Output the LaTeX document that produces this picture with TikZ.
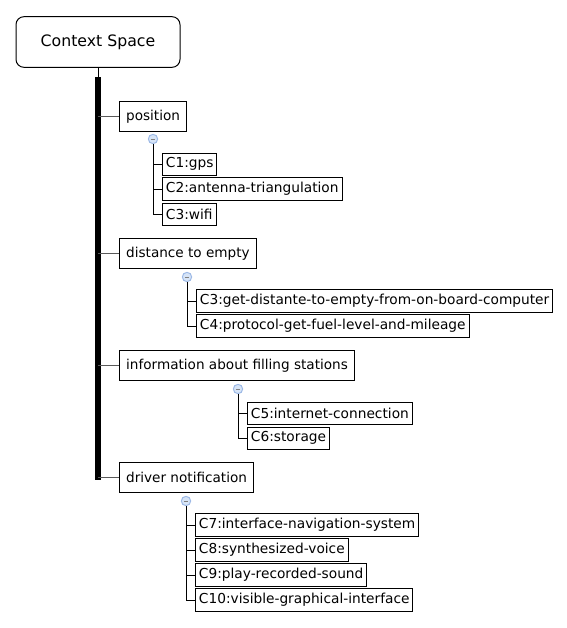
\documentclass[tikz,border=0pt]{standalone}
\usepackage{fontspec}
\setmainfont{DejaVu Sans}
\definecolor{foldfill}{HTML}{D6E4F7}
\definecolor{folddraw}{HTML}{9DB9E6}
\tikzset{
  title/.style={draw, rounded corners=6pt, minimum width=123pt, minimum height=38pt, font=\fontsize{11.8}{14}\selectfont},
  topic/.style={draw, anchor=west, minimum height=22.5pt, inner xsep=5pt, font=\fontsize{10.2}{12}\selectfont},
  leaf/.style={draw, anchor=west, minimum height=16.5pt, inner xsep=2.6pt, font=\fontsize{10.3}{12}\selectfont},
  fold/.style={circle, draw=folddraw, fill=foldfill, inner sep=0pt, minimum size=7pt},
  twig/.style={gray!70!black, line width=0.75pt},
}
\begin{document}
\begin{tikzpicture}[x=0.75pt, y=-0.75pt, line width=0.75pt]
  \useasboundingbox (0,0) rectangle (567,628);

  % Root
  \node[title] (root) at (98,42) {Context Space};
  \coordinate (barTop) at (98,77);
  \coordinate (barEnd) at (98,478);

  % Topics
  \node[topic] (pos) at (119,116.5) {position};
  \node[topic] (dte) at (119,253.5) {distance to empty};
  \node[topic] (info) at (119,365.5) {information about filling stations};
  \node[topic] (drv) at (119,477.5) {driver notification};

  % Fold marks
  \node[fold] (f1) at (153,139) {};
  \node[fold] (f2) at (187,277) {};
  \node[fold] (f3) at (238,389) {};
  \node[fold] (f4) at (186,501) {};
  \foreach \f in {f1,f2,f3,f4}
    \draw[gray, line width=0.5pt] ([xshift=-1.6pt]\f.center) -- ([xshift=1.6pt]\f.center);

  % Leaves
  \node[leaf] (c1) at (162,164) {C1:gps};
  \node[leaf] (c2) at (162,189) {C2:antenna-triangulation};
  \node[leaf] (c3) at (162,214) {C3:wifi};

  \node[leaf] (c3b) at (196,301) {C3:get-distante-to-empty-from-on-board-computer};
  \node[leaf] (c4) at (196,326) {C4:protocol-get-fuel-level-and-mileage};

  \node[leaf] (c5) at (247,413) {C5:internet-connection};
  \node[leaf] (c6) at (247,438) {C6:storage};

  \node[leaf] (c7) at (195,525) {C7:interface-navigation-system};
  \node[leaf] (c8) at (195,550) {C8:synthesized-voice};
  \node[leaf] (c9) at (195,575) {C9:play-recorded-sound};
  \node[leaf] (c10) at (195,600) {C10:visible-graphical-interface};

  % Trunk
  \draw (root.south) -- (barTop);
  \draw[line width=4pt] (barTop) -- ([yshift=-1.5pt]barEnd);
  \foreach \t in {pos,dte,info,drv}
    \draw[twig] (\t.west -| barTop) -- (\t.west);

  % Branches
  \draw (f1.south) |- (c3.west);
  \foreach \c in {c1,c2}
    \draw (f1.south |- \c.west) -- (\c.west);
  \draw (f2.south) |- (c4.west);
  \draw (f2.south |- c3b.west) -- (c3b.west);
  \draw (f3.south) |- (c6.west);
  \draw (f3.south |- c5.west) -- (c5.west);
  \draw (f4.south) |- (c10.west);
  \foreach \c in {c7,c8,c9}
    \draw (f4.south |- \c.west) -- (\c.west);
\end{tikzpicture}
\end{document}
